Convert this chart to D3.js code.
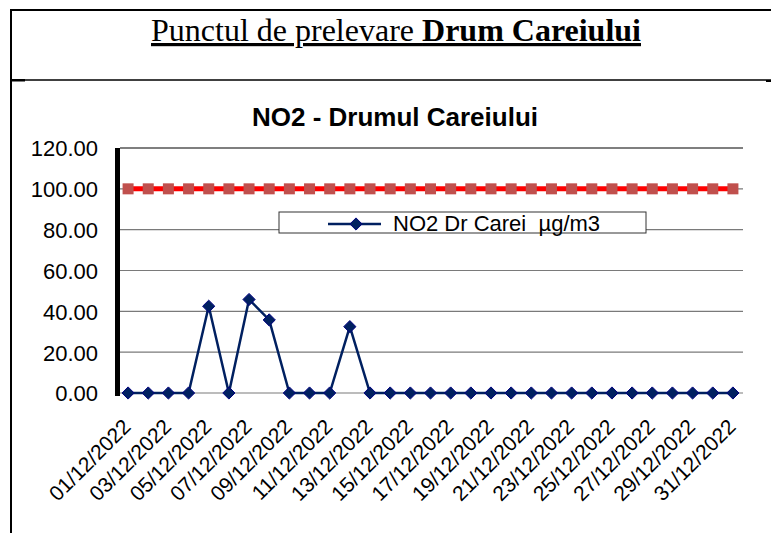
<!DOCTYPE html>
<html>
<head>
<meta charset="utf-8">
<script src="https://cdn.jsdelivr.net/npm/d3@7"></script>
<style>
  body { margin: 0; background: #fff; }
  svg { display: block; }
</style>
</head>
<body>
<script>
// data
const dates = d3.range(1, 32).map(d => String(d).padStart(2, "0") + "/12/2022");
const no2 = [0, 0, 0, 0, 42.5, 0, 45.8, 35.8, 0, 0, 0, 32.5, 0, 0, 0, 0, 0, 0, 0, 0,
             0, 0, 0, 0, 0, 0, 0, 0, 0, 0, 0];
const limit = dates.map(() => 100);
const yTicks = [0, 20, 40, 60, 80, 100, 120];

const W = 771, H = 533;
const plot = { left: 120, right: 743, top: 148, bottom: 393 };
const sans = "Liberation Sans, Arial, sans-serif";

const svg = d3.select("body").append("svg")
  .attr("width", W).attr("height", H);

// frame around the page section
svg.append("line").attr("x1", 10).attr("x2", W).attr("y1", 10).attr("y2", 10)
  .attr("stroke", "#000").attr("stroke-width", 2);
svg.append("line").attr("x1", 11).attr("x2", 11).attr("y1", 10).attr("y2", H)
  .attr("stroke", "#000").attr("stroke-width", 2);
svg.append("line").attr("x1", 11).attr("x2", W).attr("y1", 80).attr("y2", 80)
  .attr("stroke", "#000").attr("stroke-width", 1.5);
svg.append("rect").attr("x", 11).attr("y", 79).attr("width", 14).attr("height", 2.5).attr("fill", "#000");
svg.append("rect").attr("x", 766).attr("y", 80).attr("width", 5).attr("height", 2).attr("fill", "#000");

// page heading
const head = svg.append("text")
  .attr("x", 396).attr("y", 41)
  .attr("text-anchor", "middle")
  .attr("font-family", "Liberation Serif, Times New Roman, serif")
  .attr("font-size", 32)
  .attr("text-decoration", "underline");
head.append("tspan").text("Punctul de prelevare ");
head.append("tspan").attr("font-weight", "bold").text("Drum Careiului");

// chart title
svg.append("text")
  .attr("x", 395).attr("y", 126)
  .attr("text-anchor", "middle")
  .attr("font-family", sans)
  .attr("font-weight", "bold")
  .attr("font-size", 26)
  .text("NO2 - Drumul Careiului");

const x = d3.scaleBand().domain(dates).range([plot.left - 2, plot.right]);
const cx = d => x(d) + x.bandwidth() / 2;
const y = d3.scaleLinear().domain([0, 120]).range([plot.bottom, plot.top]);

// gridlines
svg.append("g").selectAll("line").data(yTicks).join("line")
  .attr("x1", plot.left).attr("x2", plot.right)
  .attr("y1", d => y(d)).attr("y2", d => y(d))
  .attr("stroke", d => d === 120 ? "#000" : "#7a7a7a")
  .attr("stroke-width", 1.2);

// y axis
const yAxis = svg.append("g")
  .attr("transform", `translate(98,0)`)
  .call(d3.axisLeft(y).tickValues(yTicks).tickFormat(d3.format(".2f")).tickSize(0));
yAxis.select(".domain").remove();
yAxis.selectAll("text")
  .attr("x", 0).attr("dy", "0.36em")
  .attr("font-family", sans)
  .attr("font-size", 22).attr("fill", "#000");

svg.append("rect")
  .attr("x", plot.left - 5).attr("y", plot.top).attr("width", 5)
  .attr("height", plot.bottom - plot.top + 3).attr("fill", "#000");

// x labels, every second day
const xAxis = svg.append("g")
  .attr("transform", `translate(0,${plot.bottom})`)
  .call(d3.axisBottom(x).tickValues(dates.filter((d, i) => i % 2 === 0)).tickSize(0));
xAxis.select(".domain").remove();
xAxis.selectAll("text")
  .attr("font-family", sans)
  .attr("font-size", 21).attr("fill", "#000")
  .attr("text-anchor", "end")
  .attr("y", 0).attr("dy", 0)
  .attr("transform", "translate(4,35) rotate(-45)");

// limit line 100
svg.append("path")
  .datum(limit)
  .attr("fill", "none").attr("stroke", "#ff0000").attr("stroke-width", 5)
  .attr("d", d3.line().x((d, i) => cx(dates[i])).y(d => y(d)));
svg.append("g").selectAll("rect").data(limit).join("rect")
  .attr("x", (d, i) => cx(dates[i]) - 5.5).attr("y", d => y(d) - 5.5)
  .attr("width", 11).attr("height", 11).attr("fill", "#c0504d");

// NO2 series
const navy = "#002060";
svg.append("path")
  .datum(no2)
  .attr("fill", "none").attr("stroke", navy).attr("stroke-width", 2.5)
  .attr("d", d3.line().x((d, i) => cx(dates[i])).y(d => y(d)));
const diamond = d3.symbol().type(d3.symbolDiamond2).size(95);
svg.append("g").selectAll("path").data(no2).join("path")
  .attr("d", diamond)
  .attr("transform", (d, i) => `translate(${cx(dates[i])},${y(d)})`)
  .attr("fill", navy).attr("stroke", "#000080").attr("stroke-width", 1);

// legend
const lg = svg.append("g").attr("transform", "translate(279,212)");
lg.append("rect").attr("width", 367).attr("height", 21)
  .attr("fill", "#fff").attr("stroke", "#333").attr("stroke-width", 1);
lg.append("line").attr("x1", 49).attr("x2", 102).attr("y1", 12).attr("y2", 12)
  .attr("stroke", navy).attr("stroke-width", 2.5);
lg.append("path").attr("d", diamond).attr("transform", "translate(77,12)")
  .attr("fill", navy).attr("stroke", "#000080");
lg.append("text")
  .attr("x", 114).attr("y", 19)
  .attr("font-family", sans)
  .attr("font-size", 22)
  .style("white-space", "pre")
  .text("NO2 Dr Carei  µg/m3");
</script>
</body>
</html>
